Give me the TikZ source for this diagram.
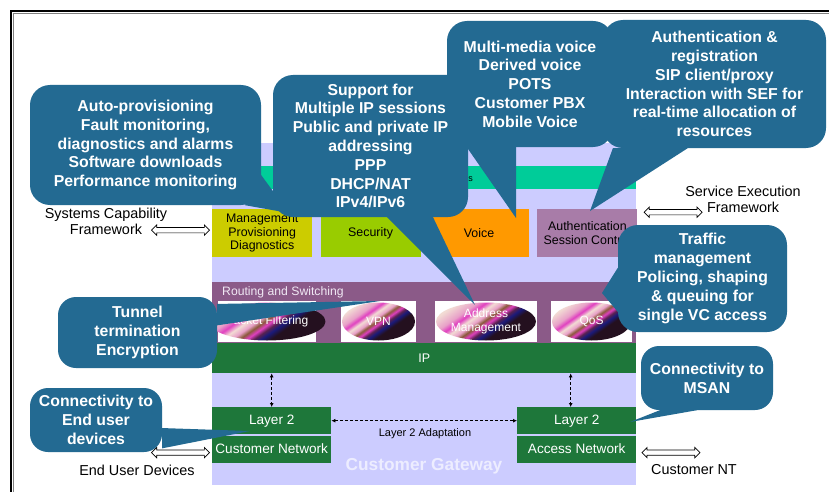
\documentclass[tikz,border=0pt]{standalone}
\usepackage{fontspec}
\setmainfont{Liberation Sans}
\usepackage{tikz}
\usetikzlibrary{arrows.meta,positioning,shapes,calc}

\definecolor{gwlilac}{HTML}{CCCCFF}
\definecolor{gwtext}{HTML}{EDEDFF}
\definecolor{svcteal}{HTML}{00CC99}
\definecolor{mgmtolive}{HTML}{CCCC00}
\definecolor{secgreen}{HTML}{99CC00}
\definecolor{voiceorange}{HTML}{FF9900}
\definecolor{authmauve}{HTML}{A87CA8}
\definecolor{rsplum}{HTML}{8B5A88}
\definecolor{rstext}{HTML}{F0E8F4}
\definecolor{ipgreen}{HTML}{1E773A}
\definecolor{calloutblue}{HTML}{236A92}
\definecolor{lensdark}{HTML}{24101F}
\definecolor{lensplum}{HTML}{5A2250}
\definecolor{lensnavy}{HTML}{1A1A7A}
\definecolor{lensmagenta}{HTML}{E040C0}
\definecolor{lensbrown}{HTML}{8A5A3A}
\definecolor{lenspink}{HTML}{E8A0C8}
\definecolor{lensbeige}{HTML}{F2DCD4}

% striped fill for the function lenses
\pgfdeclareverticalshading{lensswirl}{100bp}{color(0bp)=(lensdark); color(25bp)=(lensdark);
  color(38bp)=(lensdark); color(42bp)=(lensnavy); color(45bp)=(lensplum); color(48bp)=(lensmagenta);
  color(51bp)=(lensbrown); color(54bp)=(lenspink); color(58bp)=(lensbeige); color(62bp)=(lensmagenta);
  color(66bp)=(lenspink); color(75bp)=(lensbeige); color(100bp)=(lensbeige)}

\begin{document}
\begin{tikzpicture}[
  x=1pt, y=-1pt,
  every node/.style={inner sep=0pt, align=center},
  layer/.style={minimum width=424pt, anchor=north west},
  fnbox/.style={minimum width=100pt, minimum height=48pt, anchor=north west, font=\fontsize{12.4}{13.5}\selectfont},
  l2box/.style={fill=ipgreen, text=white, minimum width=119pt, minimum height=27pt, font=\fontsize{13.6}{15}\selectfont},
  imgbox/.style={fill=white, minimum height=41pt},
  lens/.style={ellipse, shading=lensswirl, shading angle=35, minimum height=38pt, text=white, font=\fontsize{12}{14}\selectfont},
  side/.style={font=\fontsize{14.4}{16}\selectfont},
  dblarrow/.style={double arrow, draw, fill=white, line width=0.7pt, minimum height=58pt, minimum width=10pt, double arrow head extend=2.5pt, inner sep=2.3pt},
  dasharr/.style={densely dashed, line width=0.9pt, {Latex[length=4pt,width=4pt]}-{Latex[length=4pt,width=4pt]}},
  callout/.style={fill=calloutblue, rounded corners=20pt, text=white, font=\bfseries\fontsize{15.8}{18.8}\selectfont},
]
  \useasboundingbox (0,0) rectangle (829,492);
  \fill[white] (0,0) rectangle (829,492);

  % frame
  \draw[line width=1.6pt] (11,492) |- (829,11);
  \draw[gray, line width=0.8pt] (13.5,492) |- (829,13.5);

  % gateway layers
  \node[layer, fill=gwlilac, minimum height=342pt] (gw) at (212,143) {};
  \node[layer, fill=svcteal, minimum height=23pt] (svc) at (212,166) {};
  \node[anchor=east, font=\fontsize{9}{11}\selectfont] (svclabel) at (473,178) {Services};

  \node[fnbox, fill=mgmtolive] (mgmt) at (212,209) {Management\\Provisioning\\Diagnostics};
  \node[fnbox, fill=secgreen, right=8pt of mgmt] (sec) {Security};
  \node[fnbox, fill=voiceorange, right=8pt of sec] (voice) {Voice};
  \node[fnbox, fill=authmauve, right=8pt of voice] (auth) {Authentication\\Session Control};

  \node[layer, fill=rsplum, minimum height=61pt] (rs) at (212,282) {};
  \node[anchor=west, text=rstext, font=\fontsize{12.2}{13}\selectfont] (rslabel) at (222,292) {Routing and Switching};

  \node[imgbox, minimum width=98pt] (pfbox) at (267,321.5) {};
  \node[imgbox, minimum width=75pt] (vpnbox) at (378.5,321.5) {};
  \node[imgbox, minimum width=102pt] (ambox) at (486,321.5) {};
  \node[imgbox, minimum width=81pt] (qosbox) at (591.5,321.5) {};
  \node[lens, minimum width=96pt] (pf) at (pfbox) {Packet Filtering};
  \node[lens, minimum width=73pt] (vpn) at (vpnbox) {VPN};
  \node[lens, minimum width=100pt] (am) at (ambox) {Address\\Management};
  \node[lens, minimum width=79pt] (qos) at (qosbox) {QoS};

  \node[layer, fill=ipgreen, minimum height=30pt] (ip) at (212,343) {};
  \node[text=white, font=\fontsize{12.5}{14}\selectfont] (iplabel) at (ip.center) {IP};

  % layer 2 blocks
  \node[l2box, anchor=north west] (l2a) at (212,407) {Layer 2};
  \node[l2box, below=1pt of l2a] (cna) {Customer Network};
  \node[l2box, anchor=north west] (l2b) at (517,407) {Layer 2};
  \node[l2box, below=1pt of l2b] (anb) {Access Network};

  \draw[dasharr] (ip.south -| l2a.north) -- (l2a.north);
  \draw[dasharr] ($(ip.south -| l2b.north)+(-6,0)$) -- ($(l2b.north)+(-6,0)$);
  \draw[dasharr] (l2a) -- (l2b);
  \node[font=\fontsize{11}{12}\selectfont] (adapt) at (425,434) {Layer 2 Adaptation};

  \node[text=gwtext, font=\bfseries\fontsize{17.3}{20}\selectfont] (gwlabel) at (424,466) {Customer Gateway};

  % outside interfaces
  \node[side] (scf) at (106,221) {Systems Capability\\Framework};
  \node[side] (sef) at (743,199) {Service Execution\\Framework};
  \node[side] (eud) at (137,470) {End User Devices};
  \node[side] (cnt) at (694,470) {Customer NT};
  \node[dblarrow, left=2pt of mgmt, yshift=3pt] (scfarr) {};
  \node[dblarrow, right=6pt of auth, yshift=21pt] (sefarr) {};
  \node[dblarrow, left=2pt of cna, yshift=-3.5pt] (eudarr) {};
  \node[dblarrow, right=5pt of anb, yshift=-3.5pt] (cntarr) {};

  % callouts
  \node[callout, minimum width=223pt, minimum height=128pt] (authnote) at (714.5,84)
    {Authentication \&\\registration\\SIP client/proxy\\Interaction with SEF for\\real-time allocation of\\resources};
  \coordinate (authtip) at (590,211);
  \fill[calloutblue] ($(authnote.south west)!0.045!(authnote.south east)$) -- (authtip)
    -- ($(authnote.south west)!0.38!(authnote.south east)$) -- cycle;

  \node[callout, minimum width=166pt, minimum height=126pt] (voicenote) at (530,84)
    {Multi-media voice\\Derived voice\\POTS\\Customer PBX\\Mobile Voice};
  \coordinate (voicetip) at (516,218);
  \fill[calloutblue] ($(voicenote.south west)!0.12!(voicenote.south east)$) -- (voicetip)
    -- ($(voicenote.south west)!0.416!(voicenote.south east)$) -- cycle;

  \node[callout, minimum width=195pt, minimum height=142pt] (ipnote) at (370.5,146)
    {Support for\\Multiple IP sessions\\Public and private IP\\addressing\\PPP\\DHCP/NAT\\IPv4/IPv6};
  \coordinate (iptip) at (475,305);
  \fill[calloutblue] ($(ipnote.south west)!0.585!(ipnote.south east)$) -- (iptip)
    -- ($(ipnote.south west)!0.82!(ipnote.south east)$) -- cycle;

  \node[callout, minimum width=231pt, minimum height=120pt] (autonote) at (145.5,145)
    {Auto-provisioning\\Fault monitoring,\\diagnostics and alarms\\Software downloads\\Performance monitoring};
  \coordinate (autotip) at (289,213);
  \fill[calloutblue] ($(autonote.north east)!0.75!(autonote.south east)$) -- (autotip)
    -- ($(autonote.south west)!0.93!(autonote.south east)$) -- cycle;

  \node[callout, minimum width=169pt, minimum height=107pt] (trafnote) at (702.5,278.5)
    {Traffic\\management\\Policing, shaping\\\& queuing for\\single VC access};
  \coordinate (traftip) at (602,293);
  \fill[calloutblue] ($(trafnote.north west)!0.4!(trafnote.south west)$) -- (traftip)
    -- ($(trafnote.south west)!0.1!(trafnote.south east)$) -- cycle;

  \node[callout, rounded corners=18pt, minimum width=159pt, minimum height=71pt] (tunnote) at (137.5,332.5)
    {Tunnel\\termination\\Encryption};
  \coordinate (tuntip) at (380,301);
  \fill[calloutblue] ($(tunnote.north east)!0.1!(tunnote.south east)$) -- (tuntip)
    -- ($(tunnote.north east)!0.4!(tunnote.south east)$) -- cycle;

  \node[callout, rounded corners=18pt, minimum width=132pt, minimum height=64pt] (eudnote) at (96,420)
    {Connectivity to\\End user\\devices};
  \coordinate (eudtip) at (250,431);
  \fill[calloutblue] ($(eudnote.north east)!0.625!(eudnote.south east)$) -- (eudtip)
    -- ($(eudnote.north east)!0.94!(eudnote.south east)$) -- cycle;

  \node[callout, rounded corners=18pt, minimum width=132pt, minimum height=64pt] (msannote) at (707,378)
    {Connectivity to\\MSAN};
  \coordinate (msantip) at (630,422);
  \fill[calloutblue] ($(msannote.south west)!0.144!(msannote.south east)$) -- (msantip)
    -- ($(msannote.south west)!0.424!(msannote.south east)$) -- cycle;
\end{tikzpicture}
\end{document}
